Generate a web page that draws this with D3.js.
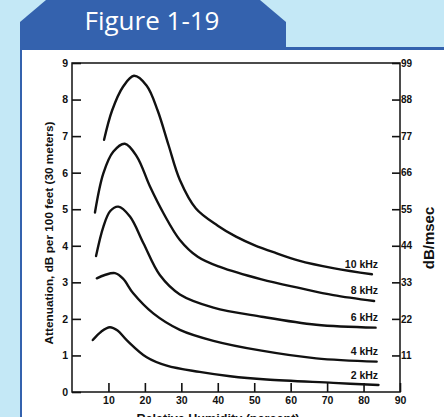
<!DOCTYPE html>
<html>
<head>
<meta charset="utf-8">
<script src="https://cdn.jsdelivr.net/npm/d3@7"></script>
<style>
  body { margin: 0; background: #c4e8f6; }
  svg { display: block; }
  .tick text { font-family: Arial, "Liberation Sans", sans-serif; font-weight: bold; fill: #111; }
  .tick line { stroke: #111; stroke-width: 1.6px; }
</style>
</head>
<body>
<div id="chart"></div>
<script>
// humidity (percent) / attenuation (dB per 100 ft) pairs
var khz10 = [[8.8,6.9],[11,7.7],[14,8.35],[17,8.65],[20.5,8.38],[23.5,7.7],[26.5,6.75],[29.6,5.8],[34,5.02],[40,4.55],[45,4.25],[50,4.02],[56,3.8],[62,3.6],[72,3.38],[82.3,3.22]];
var khz8 = [[6.3,4.91],[8.6,5.98],[11.3,6.57],[14.5,6.79],[17.8,6.44],[21.4,5.62],[25.1,4.89],[29.6,4.16],[34.5,3.7],[40.6,3.42],[52,3.08],[62.6,2.84],[71.7,2.65],[82.9,2.49]];
var khz6 = [[6.6,3.72],[8.6,4.52],[10.5,4.95],[12.7,5.07],[15.9,4.8],[19.6,4.07],[24.1,3.2],[29.6,2.67],[38.8,2.31],[52,2.06],[67,1.84],[83.3,1.76]];
var khz4 = [[6.8,3.11],[9,3.2],[11.8,3.25],[14,3.1],[16.8,2.7],[22.3,2.15],[29.6,1.7],[38.8,1.4],[52,1.13],[67,0.92],[83.6,0.83]];
var khz2 = [[5.7,1.42],[8,1.65],[10.4,1.77],[12.5,1.68],[15,1.42],[20.5,0.95],[26,0.72],[35,0.55],[43.4,0.43],[53.4,0.34],[71.7,0.25],[84.1,0.19]];

var curves = [khz10, khz8, khz6, khz4, khz2];
var curveLabels = ["10 kHz", "8 kHz", "6 kHz", "4 kHz", "2 kHz"];

var leftTicks = [0, 1, 2, 3, 4, 5, 6, 7, 8, 9];
var rightTicks = [1, 2, 3, 4, 5, 6, 7, 8, 9];
var rightTickLabels = ["11", "22", "33", "44", "55", "66", "77", "88", "99"];
var bottomTicks = [10, 20, 30, 40, 50, 60, 70, 80, 90];

var width = 444, height = 417;
var margin = {top: 63, right: 44, bottom: 25, left: 72};
var fontStack = 'Arial, "Liberation Sans", sans-serif';

var svg = d3.select("#chart").append("svg")
  .attr("width", width)
  .attr("height", height);

// page background + figure tab
svg.append("rect").attr("width", width).attr("height", height).attr("fill", "#c4e8f6");
svg.append("polygon")
  .attr("points", "20,50 20,22 46,0 260,0 286,22 286,50")
  .attr("fill", "#3462ae");
svg.append("rect")
  .attr("x", 20).attr("y", 47).attr("width", width - 20).attr("height", height - 47)
  .attr("fill", "#3462ae");
svg.append("rect")
  .attr("x", 22).attr("y", 50).attr("width", width - 22).attr("height", height - 50)
  .attr("fill", "#ffffff");
svg.append("text")
  .attr("x", 152).attr("y", 30)
  .attr("text-anchor", "middle")
  .attr("font-family", '"Open Sans", sans-serif')
  .attr("font-size", 26)
  .attr("fill", "#ffffff")
  .text("Figure 1-19");

var xScale = d3.scaleLinear()
  .domain([0, 90])
  .range([margin.left, width - margin.right]);

var yScale = d3.scaleLinear()
  .domain([0, 9])
  .range([height - margin.bottom, margin.top]);

// left axis, ticks pointing inward
var gLeft = svg.append("g")
  .attr("transform", "translate(" + margin.left + ",0)")
  .call(d3.axisLeft(yScale).tickValues(leftTicks).tickSize(-9).tickPadding(4));
gLeft.select(".domain").remove();
gLeft.selectAll(".tick text").attr("font-size", 10.5).attr("x", -4);

// right axis
var gRight = svg.append("g")
  .attr("transform", "translate(" + (width - margin.right) + ",0)")
  .call(d3.axisRight(yScale).tickValues(rightTicks).tickSize(-8).tickPadding(1)
    .tickFormat(function(d, i) { return rightTickLabels[i]; }));
gRight.select(".domain").remove();
gRight.selectAll(".tick text").attr("font-size", 10).attr("x", 1);

// bottom axis
var gBottom = svg.append("g")
  .attr("transform", "translate(0," + (height - margin.bottom) + ")")
  .call(d3.axisBottom(xScale).tickValues(bottomTicks).tickSize(-9).tickPadding(5));
gBottom.select(".domain").remove();
gBottom.selectAll(".tick text").attr("font-size", 10.5).attr("y", 5);

// frame
svg.append("rect")
  .attr("x", xScale(0)).attr("y", yScale(9))
  .attr("width", xScale(90) - xScale(0))
  .attr("height", yScale(0) - yScale(9))
  .attr("fill", "none")
  .attr("stroke", "#111")
  .attr("stroke-width", 1.5);

var line = d3.line()
  .x(function(d) { return xScale(d[0]); })
  .y(function(d) { return yScale(d[1]); })
  .curve(d3.curveCatmullRom.alpha(0.5));

svg.selectAll(".curve")
  .data(curves)
  .enter().append("path")
  .attr("class", "curve")
  .attr("d", line)
  .attr("fill", "none")
  .attr("stroke", "#111")
  .attr("stroke-width", 2.4)
  .attr("stroke-linecap", "round");

// labels sit just above the end of each curve
svg.selectAll(".curve-label")
  .data(curves)
  .enter().append("text")
  .attr("class", "curve-label")
  .attr("x", xScale(84))
  .attr("y", function(d) { return yScale(d[d.length - 1][1]) - 6.5; })
  .attr("text-anchor", "end")
  .attr("font-family", fontStack)
  .attr("font-weight", "bold")
  .attr("font-size", 10.5)
  .attr("fill", "#111")
  .text(function(d, i) { return curveLabels[i]; });

// axis titles
svg.append("text")
  .attr("transform", "translate(53," + 233 + ") rotate(-90)")
  .attr("text-anchor", "middle")
  .attr("font-family", fontStack)
  .attr("font-weight", "bold")
  .attr("font-size", 11.8)
  .attr("fill", "#111")
  .text("Attenuation, dB per 100 feet (30 meters)");

svg.append("text")
  .attr("transform", "translate(434,238) rotate(-90)")
  .attr("text-anchor", "middle")
  .attr("font-family", fontStack)
  .attr("font-weight", "bold")
  .attr("font-size", 15)
  .attr("fill", "#111")
  .text("dB/msec");

svg.append("text")
  .attr("x", 218).attr("y", 422.5)
  .attr("text-anchor", "middle")
  .attr("font-family", fontStack)
  .attr("font-weight", "bold")
  .attr("font-size", 12.6)
  .attr("fill", "#111")
  .text("Relative Humidity (percent)");
</script>
</body>
</html>
